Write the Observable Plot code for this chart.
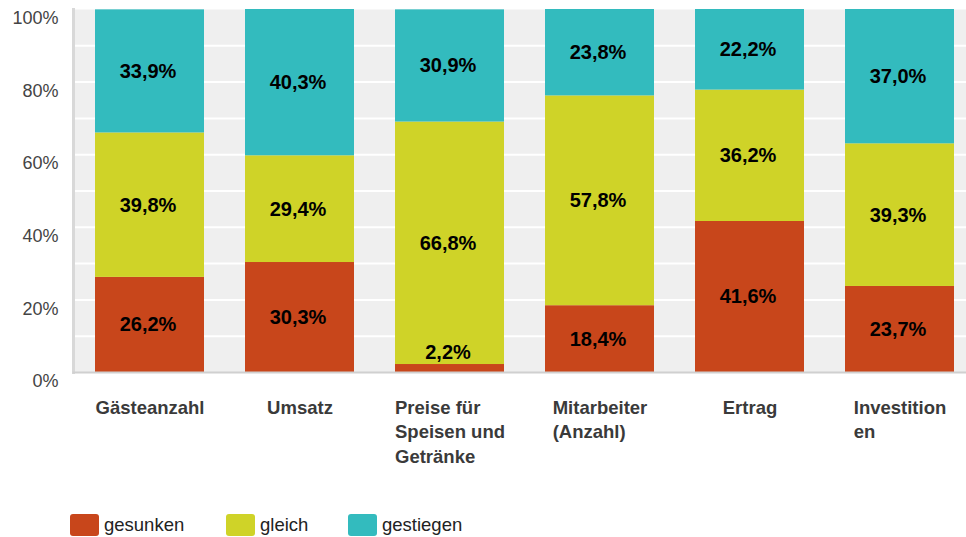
<!DOCTYPE html>
<html><head><meta charset="utf-8">
<script src="https://cdn.jsdelivr.net/npm/d3@7"></script>
<script src="https://cdn.jsdelivr.net/npm/@observablehq/plot@0.6"></script>
<style>
body{margin:0;background:#fff;font-family:"Liberation Sans",Arial,sans-serif;}
#chart{position:relative;width:966px;height:537px;overflow:hidden}
#chart svg{display:block}
.legend{position:absolute;top:514px;left:0;width:966px;height:23px}
.item{position:absolute;top:0;display:flex;align-items:center;height:22px}
.sw{width:29px;height:22px;border-radius:3px;margin-right:5px}
.lab{font-size:18.5px;color:#222;line-height:22px}
</style></head><body><div id="chart"></div>
<script>
const categories = ["Gästeanzahl","Umsatz","Preise für Speisen und Getränke","Mitarbeiter (Anzahl)","Ertrag","Investitionen"];
const categoryLabels = ["Gästeanzahl","Umsatz","Preise für\nSpeisen und\nGetränke","Mitarbeiter\n(Anzahl)","Ertrag","Investition\nen"];
const seriesNames = ["gesunken","gleich","gestiegen"];
const gesunken = [26.2,30.3,2.2,18.4,41.6,23.7];
const gleich = [39.8,29.4,66.8,57.8,36.2,39.3];
const gestiegen = [33.9,40.3,30.9,23.8,22.2,37.0];
const colors = ["#c8461b","#cfd328","#33bbbe"];
const yTicks = [0,20,40,60,80,100];
const gridValues = [10,20,30,40,50,60,70,80,90];
const legendLeft = [70,226,348];

const series = [gesunken, gleich, gestiegen];
const rows = [];
categories.forEach((c,i)=>{
  let acc = 0;
  series.forEach((arr,s)=>{
    const v = arr[i];
    rows.push({category:c, series:seriesNames[s], value:v, y1:acc, y2:acc+v, mid:acc+v/2});
    acc += v;
  });
});
const fmt = v => v.toFixed(1).replace(".",",") + "%";

const xLabelFont = "bold 18.5px 'Liberation Sans', Arial, sans-serif";
const ctx = document.createElement("canvas").getContext("2d");
ctx.font = xLabelFont;
const blockWidth = s => Math.max(...s.split("\n").map(l => ctx.measureText(l).width));

const xLabelMarks = categories.map((c,i)=>Plot.text([{category:c, label:categoryLabels[i]}], {
  x:"category", text:"label", frameAnchor:"bottom", lineAnchor:"top", textAnchor:"start",
  dx: -blockWidth(categoryLabels[i])/2, dy: 24, fontSize:18.5, fontWeight:"bold", fill:"#3a3a3a", lineHeight:1.32
}));

const plot = Plot.plot({
  width:966, height:500,
  marginLeft:73, marginRight:0, marginTop:9, marginBottom:128,
  style:{fontFamily:"'Liberation Sans', Arial, sans-serif", fontSize:"18px", background:"transparent"},
  x:{type:"band", domain:categories, range:[74.5,974.5], paddingInner:0.273, paddingOuter:0.1365, axis:null},
  y:{domain:[0,100], axis:null},
  color:{domain:seriesNames, range:colors},
  marks:[
    Plot.frame({fill:"#efefef"}),
    Plot.ruleY(gridValues, {stroke:"#ffffff", strokeWidth:2}),
    Plot.barY(rows, {x:"category", y1:"y1", y2:"y2", fill:"series"}),
    Plot.frame({anchor:"left", stroke:"#d8d8d8", strokeWidth:3}),
    Plot.frame({anchor:"bottom", stroke:"#d0d0d0", strokeWidth:2}),
    Plot.axisY(yTicks, {tickSize:0, tickPadding:15, tickFormat:d=>d+"%", fontSize:18, fill:"#444", dy:9}),
    Plot.text(rows.filter(d=>d.value>=5), {x:"category", y:"mid", text:d=>fmt(d.value), fontSize:20, fontWeight:"bold", fill:"#000", dx:-2}),
    Plot.text(rows.filter(d=>d.value<5), {x:"category", y:"y2", text:d=>fmt(d.value), fontSize:20, fontWeight:"bold", fill:"#000", dx:-2, dy:-12}),
    ...xLabelMarks
  ]
});
const chart = document.getElementById("chart");
chart.appendChild(plot);

const legend = document.createElement("div");
legend.className = "legend";
seriesNames.forEach((n,i)=>{
  const it = document.createElement("div");
  it.className = "item";
  it.style.left = legendLeft[i] + "px";
  it.innerHTML = `<div class="sw" style="background:${colors[i]}"></div><span class="lab">${n}</span>`;
  legend.appendChild(it);
});
chart.appendChild(legend);
</script></body></html>
